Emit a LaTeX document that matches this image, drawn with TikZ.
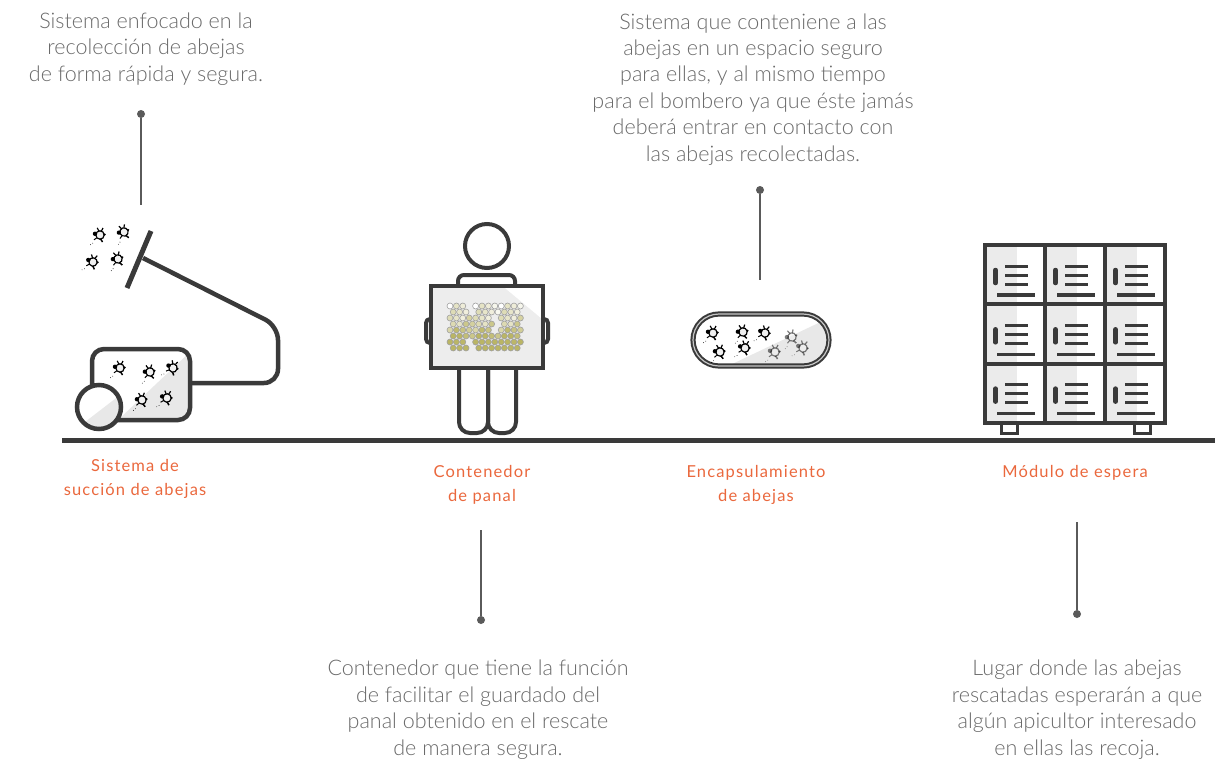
\documentclass[tikz,border=0pt]{standalone}
\usepackage{fontspec}
\setmainfont{Lato}[UprightFont={* Light}]
\newfontfamily\tagfont{Lato}[LetterSpace=7]

\definecolor{linegray}{HTML}{3A3A3A}
\definecolor{textgray}{HTML}{6A6A6A}
\definecolor{tagorange}{HTML}{EA683D}
\definecolor{pingray}{HTML}{5A5A5A}
\definecolor{combolive}{HTML}{A9A23E}

\tikzset{
  desc/.style={align=center, text=textgray, inner sep=0pt, anchor=base,
    font=\fontsize{21.5}{26.4}\selectfont},
  tag/.style={align=center, text=tagorange, inner sep=0pt, anchor=base,
    font=\tagfont\fontsize{16.5}{24}\selectfont},
  pinline/.style={pingray, line width=1.6pt},
  pindot/.style={circle, fill=pingray, inner sep=0pt, minimum size=8pt},
  icon/.style={linegray, line width=4.5pt},
  bee/.pic={
    \fill[gray!12] (0,0) circle (4.2);
    \draw[black, line width=1.2pt] (0,0) circle (4.2);
    \fill[black] (-5,-1.2) circle (2.2);
    \draw[black, line width=1.2pt] (-1.2,-4) -- (-2.8,-7.2) (1.4,-4) -- (3,-7);
    \draw[black, line width=1.5pt] (0.6,4) -- (2.6,7);
    \draw[black, line width=1pt] (-3.5,3) -- (-6,4.8);
    \fill[black] (4.6,-0.5) circle (1.2);
    \draw[black, line width=0.6pt, dotted] (-7,8) -- (-10,10);
  }
}

\begin{document}
\begin{tikzpicture}[x=1pt, y=-1pt]
\useasboundingbox (0,0) rectangle (1215,758);

% ground line
\draw[linegray, line width=5pt] (62,440) -- (1215,440);

%% succion de abejas
\draw[icon, rounded corners=14] (190,383) -- (278,383) -- (278,326) -- (143,258);
\draw[icon, line width=5pt] (127,288) -- (151,231);
\fill[white, rounded corners=12] (92,349) rectangle (190,420);
\begin{scope}
  \clip[rounded corners=12] (92,349) rectangle (190,420);
  \fill[gray!18] (118,420) -- (190,352) -- (190,420) -- cycle;
\end{scope}
\draw[icon, rounded corners=12] (92,349) rectangle (190,420);
\fill[white] (99,407) circle (22);
\begin{scope}
  \clip (99,407) circle (22);
  \fill[gray!18] (72,432) -- (124,392) -- (124,432) -- cycle;
\end{scope}
\draw[icon] (99,407) circle (22);
\foreach \bx/\by/\r in {100/235/0, 124/232/20, 93/262/-10, 118/259/15,
                        120/368/0, 150/372/10, 173/368/-15, 142/400/5, 167/398/-5}
  \pic[rotate=\r] at (\bx,\by) {bee};

%% contenedor de panal
\draw[icon, line width=4pt] (487,246) circle (22);
\draw[icon, line width=4pt, rounded corners=6] (458,286) -- (458,275) -- (515,275) -- (515,286);
\fill[gray!14] (431,286) rectangle (543,368);
\fill[white] (505,288) -- (541,288) -- (541,318) -- cycle;
\draw[icon, line width=4pt, rounded corners=4] (431,319) -- (426,319) -- (426,343) -- (431,343);
\draw[icon, line width=4pt, rounded corners=4] (543,319) -- (548,319) -- (548,343) -- (543,343);
\draw[icon, line width=4pt] (431,286) rectangle (543,368);
\draw[icon, line width=4pt, rounded corners=11] (459,368) -- (459,433) -- (488,433) -- (488,368);
\draw[icon, line width=4pt, rounded corners=11] (488,368) -- (488,433) -- (516,433) -- (516,368);
% panal
\foreach \row in {0,...,7}
  \foreach \col in {0,...,11} {
    \pgfmathtruncatemacro\skip{(\col==3 && (\row<2 || \row>5)) || (\col==7 && (\row>1 && \row<5)) || (\col==11 && mod(\row,2)==1) ? 1 : 0}
    \ifnum\skip=0
      \pgfmathtruncatemacro\pct{min(80, 4*\row*\row/4 + 10*mod(7*\col+3*\row,4) + 7*\row)}
      \filldraw[fill=combolive!\pct!white, draw=gray!75, line width=0.6pt]
        ({450+6.4*\col+3.2*mod(\row,2)}, {306+6*\row}) circle (3.0);
    \fi
  }

%% encapsulamiento
\fill[white, rounded corners=26] (693,314) rectangle (829,366);
\begin{scope}
  \clip[rounded corners=26] (693,314) rectangle (829,366);
  \fill[gray!18] (728,366) -- (829,318) -- (829,366) -- cycle;
\end{scope}
\draw[linegray, line width=2pt, double=gray!45, double distance=1.2pt, rounded corners=26]
  (693,314) rectangle (829,366);
\foreach \bx/\by/\r in {713/333/0, 743/332/10, 765/333/-10, 720/352/5, 745/348/-5}
  \pic[rotate=\r] at (\bx,\by) {bee};
\foreach \bx/\by/\r in {792/337/15, 775/352/0, 803/348/-10}
  \pic[rotate=\r, opacity=0.5] at (\bx,\by) {bee};

%% modulo de espera
\foreach \i in {0,1,2}
  \foreach \j in {0,1,2} {
    \begin{scope}[shift={({985+60*\i},{245+59.3*\j})}]
      \fill[gray!16] (2,2) rectangle (32,58);
      \draw[linegray, line width=4.5pt, line cap=round] (10.5,25) -- (10.5,38);
      \draw[linegray, line width=3pt] (20,21) -- (43,21) (20,30) -- (43,30) (20,39) -- (43,39);
      \draw[linegray, line width=3.5pt] (12,50) -- (50,50);
    \end{scope}
  }
\draw[icon, line width=4pt] (985,245) rectangle (1165,423);
\draw[icon, line width=4pt] (1045,245) -- (1045,423) (1105,245) -- (1105,423)
  (985,304.3) -- (1165,304.3) (985,363.6) -- (1165,363.6);
\draw[icon, line width=3pt, fill=white] (1001,423) rectangle (1017,433);
\draw[icon, line width=3pt, fill=white] (1134,423) rectangle (1150,433);

%% textos (anclados en la linea base de la ultima linea)
\node[desc] (descsuc) at (146,81) {Sistema enfocado en la\\recolección de abejas\\de forma rápida y segura.};
\node[desc] (desccap) at (753,161) {Sistema que conteniene a las\\abejas en un espacio seguro\\para ellas, y al mismo tiempo\\para el bombero ya que éste jamás\\deberá entrar en contacto con\\las abejas recolectadas.};
\node[desc] (descpan) at (478,755) {Contenedor que tiene la función\\de facilitar el guardado del\\panal obtenido en el rescate\\de manera segura.};
\node[desc] (descmod) at (1077,755) {Lugar donde las abejas\\rescatadas esperarán a que\\algún apicultor interesado\\en ellas las recoja.};

\node[tag] (tagsuc) at (135,495) {Sistema de\\succión de abejas};
\node[tag] (tagpan) at (482,501) {Contenedor\\de panal};
\node[tag] (tagenc) at (756,501) {Encapsulamiento\\de abejas};
\node[tag] (tagmod) at (1075,477) {Módulo de espera};

% marcadores
\node[pindot] (dotsuc) at (141,114) {};
\coordinate (endsuc) at (141,205);
\draw[pinline] (dotsuc) -- (endsuc);
\node[pindot] (dotcap) at (760,190) {};
\coordinate (endcap) at (760,280);
\draw[pinline] (dotcap) -- (endcap);
\node[pindot] (dotpan) at (481,620) {};
\coordinate (endpan) at (481,530);
\draw[pinline] (endpan) -- (dotpan);
\node[pindot] (dotmod) at (1077,614) {};
\coordinate (endmod) at (1077,522);
\draw[pinline] (endmod) -- (dotmod);
\end{tikzpicture}
\end{document}
